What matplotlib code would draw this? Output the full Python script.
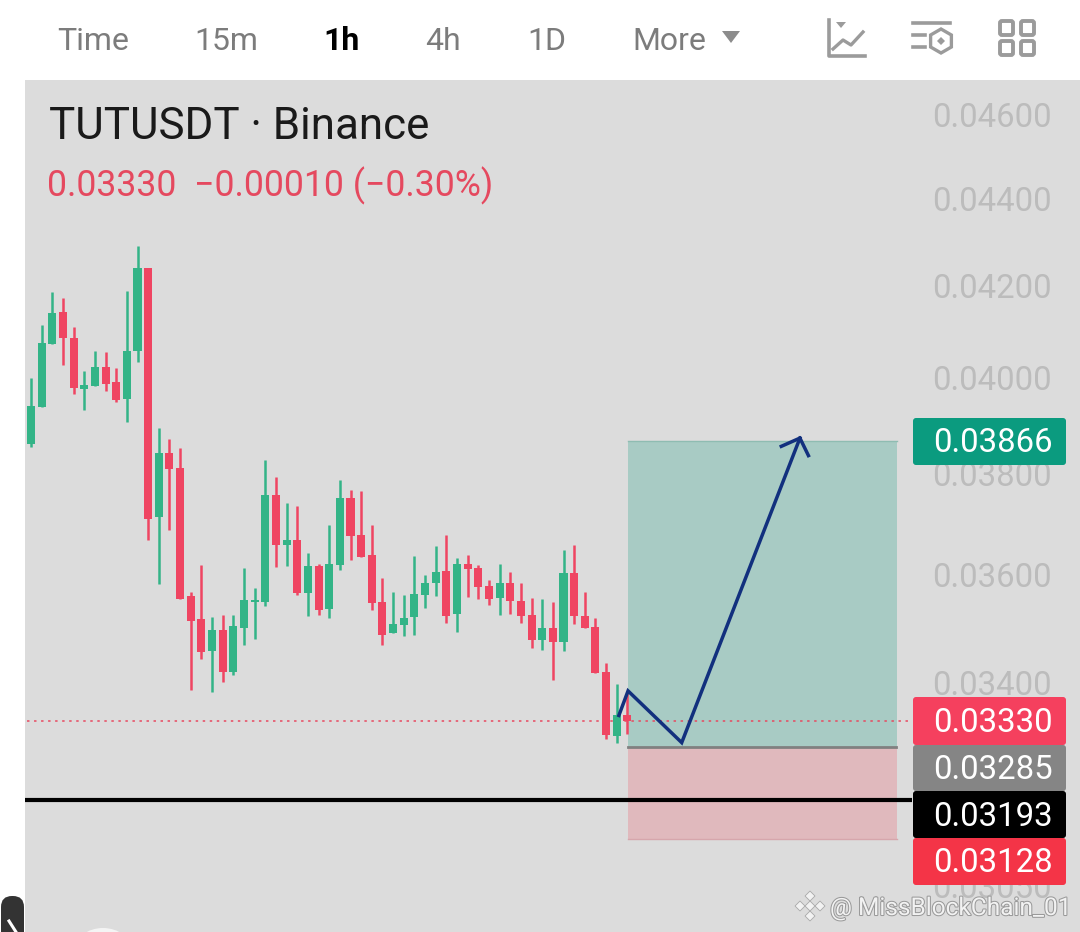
import matplotlib
matplotlib.use("Agg")
import matplotlib.pyplot as plt
import matplotlib.patheffects as pe
from matplotlib.patches import Ellipse, FancyBboxPatch, Polygon, Rectangle, RegularPolygon
from matplotlib.ticker import NullLocator

plt.rcParams["font.family"] = ["Roboto", "DejaVu Sans"]

opens = [0.03860, 0.03936, 0.04071, 0.04141, 0.04084, 0.03974, 0.03981, 0.04021, 0.03989, 0.03953,
         0.04056, 0.04240, 0.03712, 0.03841, 0.03810, 0.03559, 0.03516, 0.03456, 0.03495, 0.03418,
         0.03499, 0.03548, 0.03548, 0.03756, 0.03657, 0.03667, 0.03565, 0.03616, 0.03535, 0.03618,
         0.03750, 0.03677, 0.03638, 0.03548, 0.03490, 0.03505, 0.03519, 0.03561, 0.03584, 0.03607,
         0.03525, 0.03620, 0.03613, 0.03578, 0.03556, 0.03584, 0.03550, 0.03523, 0.03477, 0.03499,
         0.03473, 0.03603, 0.03521, 0.03501, 0.03418, 0.03304, 0.03340]
highs = [0.03998, 0.04112, 0.04186, 0.04172, 0.04108, 0.04013, 0.04056, 0.04054, 0.04019, 0.04188,
         0.04289, 0.04240, 0.03893, 0.03870, 0.03852, 0.03568, 0.03618, 0.03519, 0.03523, 0.03523,
         0.03613, 0.03574, 0.03827, 0.03792, 0.03740, 0.03734, 0.03642, 0.03620, 0.03696, 0.03786,
         0.03766, 0.03764, 0.03696, 0.03593, 0.03568, 0.03561, 0.03636, 0.03599, 0.03656, 0.03677,
         0.03632, 0.03638, 0.03618, 0.03590, 0.03620, 0.03605, 0.03584, 0.03556, 0.03554, 0.03548,
         0.03648, 0.03657, 0.03567, 0.03518, 0.03434, 0.03396, 0.03384]
lows = [0.03854, 0.03936, 0.04071, 0.04026, 0.03964, 0.03930, 0.03981, 0.03970, 0.03947, 0.03905,
        0.04032, 0.03667, 0.03582, 0.03686, 0.03553, 0.03386, 0.03442, 0.03382, 0.03400, 0.03413,
        0.03467, 0.03479, 0.03540, 0.03615, 0.03616, 0.03561, 0.03521, 0.03523, 0.03518, 0.03609,
        0.03628, 0.03634, 0.03533, 0.03467, 0.03490, 0.03484, 0.03486, 0.03537, 0.03559, 0.03509,
        0.03492, 0.03557, 0.03554, 0.03542, 0.03523, 0.03525, 0.03509, 0.03462, 0.03458, 0.03404,
        0.03456, 0.03507, 0.03499, 0.03416, 0.03299, 0.03292, 0.03308]
closes = [0.03939, 0.04073, 0.04139, 0.04084, 0.03976, 0.03983, 0.04021, 0.03985, 0.03951, 0.04056,
          0.04240, 0.03708, 0.03841, 0.03808, 0.03554, 0.03512, 0.03454, 0.03495, 0.03418, 0.03503,
          0.03552, 0.03552, 0.03756, 0.03657, 0.03667, 0.03565, 0.03616, 0.03533, 0.03620, 0.03750,
          0.03675, 0.03634, 0.03546, 0.03486, 0.03507, 0.03518, 0.03563, 0.03584, 0.03605, 0.03521,
          0.03620, 0.03611, 0.03576, 0.03554, 0.03584, 0.03550, 0.03521, 0.03477, 0.03499, 0.03473,
          0.03603, 0.03521, 0.03499, 0.03416, 0.03306, 0.03340, 0.03330]

axis_ticks = [0.046, 0.044, 0.042, 0.040, 0.038, 0.036, 0.034, 0.0305]
axis_labels = ["0.04600", "0.04400", "0.04200", "0.04000", "0.03800", "0.03600", "0.03400", "0.03050"]

last_price = 0.03330
entry = 0.03285
support = 0.03193
target = 0.03866
stop = 0.03128

arrow_x = [55.2, 56.06, 61.1, 72.2]
arrow_y = [0.03340, 0.03384, 0.03292, 0.03872]
head_x = [70.45, 72.2, 73.0]
head_y = [0.03855, 0.03872, 0.03836]

tabs = ["Time", "15m", "1h", "4h", "1D", "More"]
tab_x = [57, 194, 323, 425, 527, 632]

GREEN = "#33b487"
RED = "#ef4562"
ICON = "#9b9b9b"

fig = plt.figure(figsize=(10.8, 9.32), dpi=100, facecolor="white")

# price chart, log scale like the app
ax = fig.add_axes([25 / 1080, 0, 1055 / 1080, 852 / 932], facecolor="#dcdcdc")
ax.set_yscale("log")
ax.set_ylim(0.02976, 0.04686)
ax.set_xlim(-6 / 10.65, 1049 / 10.65)

xs = list(range(len(opens)))
colors = [GREEN if c >= o else RED for o, c in zip(opens, closes)]
ax.vlines(xs, lows, highs, colors=colors, lw=1.8, zorder=3)
ax.bar(xs, [abs(c - o) for o, c in zip(opens, closes)],
       bottom=[min(o, c) for o, c in zip(opens, closes)],
       width=0.76, color=colors, zorder=3)

ax.add_patch(Rectangle((56.06, entry), 25.25, target - entry, fc="#a8cbc4", ec="none", zorder=1))
ax.add_patch(Rectangle((56.06, stop), 25.25, entry - stop, fc="#e0b9bd", ec="none", zorder=1))
ax.plot([56.06, 81.31], [target, target], color="#8fbcb2", lw=1, zorder=2)
ax.plot([56.06, 81.31], [stop, stop], color="#d6a6ac", lw=1, zorder=2)
ax.plot([56.06, 81.2], [entry, entry], color="#808080", lw=2, zorder=2)

ax.plot([-1, 82.7], [support, support], color="black", lw=3, solid_capstyle="butt", zorder=4)
ax.plot([-1, 82.7], [last_price, last_price], color="#e8485f", lw=1.1,
        dashes=(1.6, 3), zorder=2)

ax.plot(arrow_x, arrow_y, color="#12307e", lw=2.5, zorder=5, solid_joinstyle="miter")
ax.plot(head_x, head_y, color="#12307e", lw=2.5, zorder=5, solid_joinstyle="miter")

ax.yaxis.tick_right()
ax.set_yticks(axis_ticks)
ax.set_yticklabels(axis_labels, fontsize=23.7, color="#bcbcbc", ha="right")
ax.yaxis.set_minor_locator(NullLocator())
ax.tick_params(axis="y", length=0, pad=-20)
ax.set_xticks([])
for s in ax.spines.values():
    s.set_visible(False)

# everything else sits in screen pixels
ui = fig.add_axes([0, 0, 1, 1], facecolor="none")
ui.set_xlim(0, 1080)
ui.set_ylim(932, 0)
ui.axis("off")

for name, x in zip(tabs, tab_x):
    active = name == "1h"
    ui.text(x, 50, name, fontsize=23, color="black" if active else "#7c7c7c",
            fontweight="bold" if active else "normal", va="baseline")
ui.add_patch(Polygon([(722, 31), (740, 31), (731, 43)], fc="#8c8c8c", ec="none"))

# toolbar icons
ui.plot([829, 829, 865], [20, 56, 56], color=ICON, lw=2.6)
ui.add_patch(Polygon([(836, 22), (846, 22), (841, 28)], fc=ICON, ec="none"))
ui.plot([833, 843, 851, 863], [49, 40, 45, 32], color=ICON, lw=2.4)
ui.plot([913, 950], [23, 23], color=ICON, lw=2.6)
ui.plot([913, 925], [35, 35], color=ICON, lw=2.6)
ui.plot([913, 925], [47, 47], color=ICON, lw=2.6)
ui.add_patch(RegularPolygon((941, 41), 6, radius=12, fc="none", ec=ICON, lw=2.4))
ui.add_patch(RegularPolygon((941, 41), 4, radius=4, fc=ICON, ec="none"))
for x0, y0 in [(1000, 21), (1021, 21), (1000, 41), (1021, 41)]:
    ui.add_patch(FancyBboxPatch((x0, y0), 13, 14, boxstyle="round,pad=0,rounding_size=2",
                                fc="none", ec=ICON, lw=2.8))

ui.text(49, 139, "TUTUSDT · Binance", fontsize=31.6, color="#1a1a1a", va="baseline")
ui.text(47, 196, "0.03330  −0.00010 (−0.30%)", fontsize=25.7, color="#e5495f", va="baseline")

# price tags on the right
tags = [(418, 465, "0.03866", "#0b9b7f"), (697, 745, "0.03330", "#f5405e"),
        (745, 791, "0.03285", "#858585"), (791, 838, "0.03193", "black"),
        (838, 885, "0.03128", "#f43447")]
for top, bottom, label, color in tags:
    ui.add_patch(FancyBboxPatch((913, top), 153, bottom - top, fc=color, ec="none",
                                boxstyle="round,pad=0,rounding_size=3"))
    ui.text(1053, (top + bottom) / 2 + 11, label, fontsize=23.7, color="white",
            ha="right", va="baseline")

# bottom left bits of the phone screen
ui.add_patch(FancyBboxPatch((1, 896), 23, 60, boxstyle="round,pad=0,rounding_size=11",
                            fc="#333333", ec="none"))
ui.plot([9, 16], [921, 932], color="white", lw=2.2)
ui.add_patch(Ellipse((103, 951), 58, 46, fc="#f4f4f4", ec="none"))

# watermark
shadow = [pe.withStroke(linewidth=1.5, foreground="#9a9a9a")]
ui.text(830, 915, "@ MissBlockChain_01", fontsize=17.6, color="#f2f2f2", va="baseline",
        path_effects=shadow)
for cx, cy in [(810, 896), (810, 916), (800, 906), (820, 906), (810, 906)]:
    ui.add_patch(RegularPolygon((cx, cy), 4, radius=5, fc="#f2f2f2", ec="#a8a8a8", lw=0.6))

fig.savefig("out.png", dpi=100)
